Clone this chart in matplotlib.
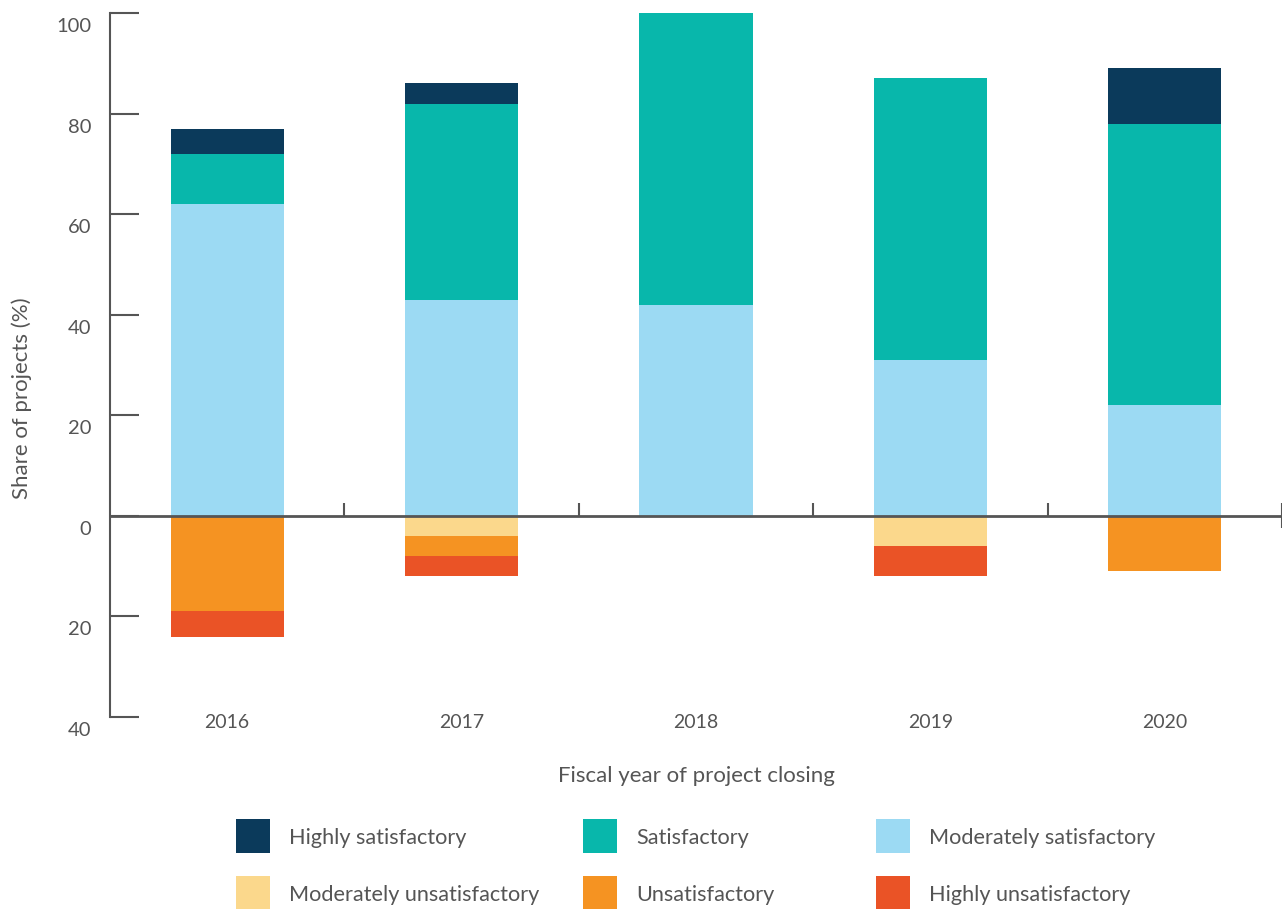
import matplotlib.pyplot as plt
import numpy as np
from matplotlib.patches import Rectangle
from matplotlib.transforms import ScaledTranslation

years = ["2016", "2017", "2018", "2019", "2020"]
highly_satisfactory = [5, 4, 0, 0, 11]
satisfactory = [10, 39, 58, 56, 56]
moderately_satisfactory = [62, 43, 42, 31, 22]
moderately_unsatisfactory = [0, 4, 0, 6, 0]
unsatisfactory = [19, 4, 0, 0, 11]
highly_unsatisfactory = [5, 4, 0, 6, 0]

ytick_values = [-40, -20, 0, 20, 40, 60, 80, 100]
ytick_labels = ["40", "20", "0", "20", "40", "60", "80", "100"]

colors = {
    "Highly satisfactory": "#0b3a5b",
    "Satisfactory": "#08b7ab",
    "Moderately satisfactory": "#9cdaf3",
    "Moderately unsatisfactory": "#fbd88c",
    "Unsatisfactory": "#f59322",
    "Highly unsatisfactory": "#ea5326",
}

plt.rcParams["font.family"] = ["Lato", "DejaVu Sans"]
text_color = "#555555"
line_color = "#555555"

W, H, DPI = 1285, 909, 100
fig = plt.figure(figsize=(W / DPI, H / DPI), dpi=DPI)
ax = fig.add_axes([110 / W, 1 - 717 / H, (1282 - 110) / W, (717 - 13) / H])

x = np.arange(len(years))
width = 0.483

pos = np.zeros(len(years))
for name, vals in [("Moderately satisfactory", moderately_satisfactory),
                   ("Satisfactory", satisfactory),
                   ("Highly satisfactory", highly_satisfactory)]:
    v = np.array(vals, dtype=float)
    ax.bar(x, v, width, bottom=pos, color=colors[name], linewidth=0, zorder=2)
    pos += v

neg = np.zeros(len(years))
for name, vals in [("Moderately unsatisfactory", moderately_unsatisfactory),
                   ("Unsatisfactory", unsatisfactory),
                   ("Highly unsatisfactory", highly_unsatisfactory)]:
    v = -np.array(vals, dtype=float)
    ax.bar(x, v, width, bottom=neg, color=colors[name], linewidth=0, zorder=2)
    neg += v

ax.set_xlim(-0.5, len(years) - 0.5)
ax.set_ylim(-40, 100)

# zero line with separators between groups
ax.axhline(0, color=line_color, lw=2, zorder=3)
seps = x + 0.5
ax.vlines(seps[:-1], 0, 2.6, color=line_color, lw=1.5, zorder=3)
ax.vlines(seps[-1:], -2.4, 2.6, color=line_color, lw=1.5, zorder=3)

for s in ["top", "right", "bottom"]:
    ax.spines[s].set_visible(False)
ax.spines["left"].set_color(line_color)
ax.spines["left"].set_linewidth(1.5)

ax.set_yticks(ytick_values)
ax.set_yticklabels(ytick_labels)
ax.tick_params(axis="y", direction="in", length=21, width=1.5, color=line_color,
               labelsize=14.5, labelcolor=text_color, pad=13.5)
offset = ScaledTranslation(0, -12 / DPI, fig.dpi_scale_trans)
for lab in ax.get_yticklabels():
    lab.set_transform(lab.get_transform() + offset)

ax.set_xticks(x)
ax.set_xticklabels(years)
ax.tick_params(axis="x", length=0, labelsize=14, labelcolor=text_color, pad=-2)

fig.text(558 / W, 1 - 776 / H, "Fiscal year of project closing", fontsize=16,
         color=text_color, ha="left", va="center")
fig.text(22 / W, 1 - 398 / H, "Share of projects (%)", fontsize=16,
         color=text_color, rotation=90, ha="center", va="center")

# legend
legend_items = [
    ("Highly satisfactory", 236, 836), ("Satisfactory", 583, 836),
    ("Moderately satisfactory", 876, 836),
    ("Moderately unsatisfactory", 236, 893), ("Unsatisfactory", 583, 893),
    ("Highly unsatisfactory", 876, 893),
]
sq = 34
for name, px, py in legend_items:
    fig.add_artist(Rectangle((px / W, 1 - (py + sq / 2) / H), sq / W, sq / H,
                             transform=fig.transFigure, color=colors[name], lw=0))
    fig.text((px + 53) / W, 1 - (py + 2) / H, name, fontsize=15.6,
             color=text_color, ha="left", va="center")

fig.savefig("out.png", dpi=DPI)
